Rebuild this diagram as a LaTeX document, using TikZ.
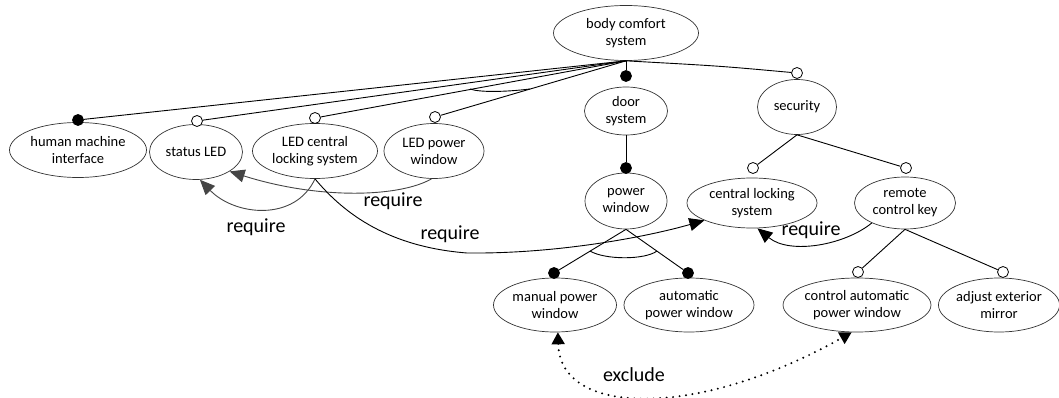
\documentclass[tikz,border=0pt]{standalone}
\usepackage{fontspec}
\setmainfont{Carlito}
\usetikzlibrary{shapes.geometric,arrows.meta}
\definecolor{reqgray}{gray}{0.27}
\begin{document}
\begin{tikzpicture}[x=1pt,y=-1pt,
  feat/.style={ellipse,draw=black!80,line width=0.7pt,inner sep=0pt,align=center,
    font=\fontsize{14.5}{17}\selectfont},
  mand/.style={circle,draw=black,fill=black,line width=0.8pt,minimum size=11pt,inner sep=0pt},
  opt/.style={circle,draw=black,fill=white,line width=0.8pt,minimum size=11pt,inner sep=0pt},
  tree/.style={line width=0.9pt},
  req/.style={line width=0.9pt,-{Triangle[length=15pt,width=13pt]}},
  excl/.style={line width=2.2pt,line cap=round,dash pattern=on 0pt off 6.5pt,
    {Triangle[length=12pt,width=13pt]}-{Triangle[length=12pt,width=13pt]}},
  lbl/.style={font=\fontsize{20}{24}\selectfont,inner sep=0pt}
]
\useasboundingbox (0,0) rectangle (1059,398);

% features
\node[feat,minimum width=145pt,minimum height=55pt] (bcs) at (626,33) {body comfort\\system};
\node[feat,minimum width=83pt,minimum height=48pt] (door) at (626,111) {door\\system};
\node[feat,minimum width=137pt,minimum height=55pt] (hmi) at (78,150) {human machine\\interface};
\node[feat,minimum width=93pt,minimum height=55pt] (status) at (196,152) {status LED};
\node[feat,minimum width=125pt,minimum height=55pt] (ledcl) at (315,151) {LED central\\locking system};
\node[feat,minimum width=100pt,minimum height=55pt] (lpw) at (434,151) {LED power\\window};
\node[feat,minimum width=79pt,minimum height=55pt] (sec) at (797,107) {security};
\node[feat,minimum width=82pt,minimum height=56pt] (pw) at (626,201) {power\\window};
\node[feat,minimum width=130pt,minimum height=50pt] (cls) at (752,203) {central locking\\system};
\node[feat,minimum width=101pt,minimum height=52pt] (rck) at (905,203) {remote\\control key};
\node[feat,minimum width=123pt,minimum height=54pt] (mpw) at (555,305) {manual power\\window};
\node[feat,minimum width=130pt,minimum height=54pt] (apw) at (689,305) {automatic\\power window};
\node[feat,minimum width=145pt,minimum height=54pt] (cap) at (857,305) {control automatic\\power window};
\node[feat,minimum width=112pt,minimum height=54pt] (aem) at (999,305) {adjust exterior\\mirror};

% mandatory / optional markers
\node[mand] (c-hmi) at (78,120) {};
\node[opt] (c-status) at (197,121) {};
\node[opt] (c-ledcl) at (315,118) {};
\node[opt] (c-lpw) at (435,117) {};
\node[mand] (c-door) at (626,76) {};
\node[opt] (c-sec) at (797,73) {};
\node[mand] (c-pw) at (626,168) {};
\node[opt] (c-cls) at (753,168) {};
\node[opt] (c-rck) at (906,168) {};
\node[mand] (c-mpw) at (554,273) {};
\node[mand] (c-apw) at (688,273) {};
\node[opt] (c-cap) at (858,272) {};
\node[opt] (c-aem) at (1003,272) {};

% tree edges
\draw[tree] (bcs.south) -- (c-hmi);
\draw[tree] (bcs.south) -- (c-status);
\draw[tree] (bcs.south) -- (c-ledcl);
\draw[tree] (bcs.south) -- (c-lpw);
\draw[tree] (bcs.south) -- (c-door);
\draw[tree] (bcs.south) .. controls (720,66) .. (c-sec);
\draw[tree] (door.south) -- (c-pw);
\draw[tree] (sec.south) -- (c-cls);
\draw[tree] (sec.south) -- (c-rck);
\draw[tree] (pw.south) -- (c-mpw);
\draw[tree] (pw.south) -- (c-apw);
\draw[tree] (rck.south) -- (c-cap);
\draw[tree] (rck.south) -- (c-aem);

% group arcs
\coordinate (g1a) at (470,89);
\coordinate (g1b) at (530,89);
\draw[tree] (g1a) .. controls (480,92.5) and (505,92) .. (g1b);
\coordinate (g2a) at (590,251);
\coordinate (g2b) at (657,251);
\draw[tree] (g2a) .. controls (605,260) and (645,260) .. (g2b);

% require constraints
\draw[req,draw=reqgray] (ledcl.south) .. controls (295,222) and (235,216) .. (status.-82);
\draw[req,draw=reqgray] (lpw.-95) .. controls (400,197) and (320,200) .. (status.-30);
\draw[req] (ledcl.south) .. controls (345,215) and (390,247) .. (467,253)
  .. controls (560,254) and (650,236) .. (cls.200);
\draw[req] (rck.211) .. controls (845,245) and (790,255) .. (cls.-78);

\node[lbl] (r1) at (256,227) {require};
\node[lbl] (r2) at (393,201) {require};
\node[lbl] (r3) at (450,234) {require};
\node[lbl] (r4) at (811,230) {require};

% exclude constraint
\draw[excl] (mpw.-84) .. controls (560,418) and (700,418) .. (cap.-101);
\node[lbl] (ex) at (634,375) {exclude};
\end{tikzpicture}
\end{document}
